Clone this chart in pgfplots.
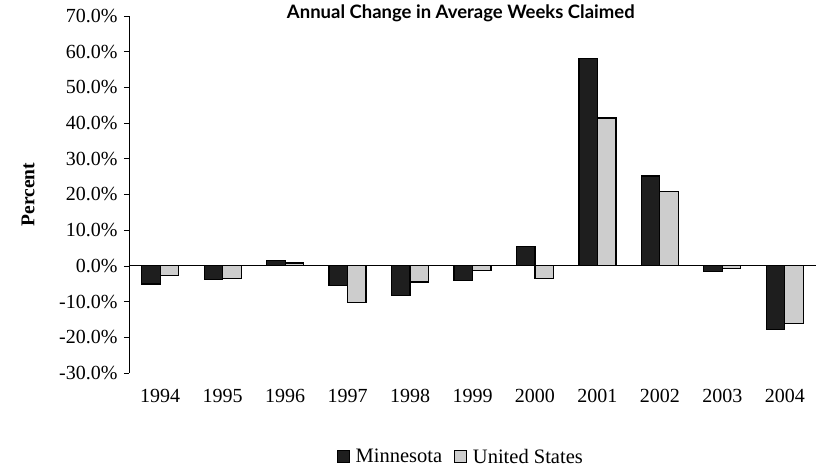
\documentclass[border=0pt]{standalone}
\usepackage{fontspec}
\setmainfont{Liberation Serif}
\newfontfamily\titlefont{Lato}
\usepackage{pgfplots}
\pgfplotsset{compat=1.18}

\definecolor{mn}{RGB}{30,30,30}
\definecolor{us}{RGB}{205,205,205}

\begin{document}
\begin{tikzpicture}
\begin{axis}[
  name=ax,
  scale only axis,
  width=687pt, height=357pt,
  ybar=0pt, bar width=18.5pt,
  xmin=-0.5, xmax=10.5,
  ymin=-30, ymax=70,
  xtick={0,...,10},
  xticklabels={1994,1995,1996,1997,1998,1999,2000,2001,2002,2003,2004},
  ytick={-30,-20,...,70},
  yticklabels={-30.0\%,-20.0\%,-10.0\%,0.0\%,10.0\%,20.0\%,30.0\%,40.0\%,50.0\%,60.0\%,70.0\%},
  axis y line*=left, axis x line*=bottom,
  axis line style={-},
  x axis line style={draw=none},
  xtick style={draw=none},
  ytick style={black, line width=0.7pt},
  y axis line style={black, line width=0.9pt},
  tick align=outside, major tick length=5pt,
  tick label style={font=\fontsize{20}{24}\selectfont},
  xticklabel style={yshift=-8pt},
  yticklabel style={xshift=-3pt},
  ylabel={\bfseries Percent},
  ylabel style={at={(axis description cs:-0.147,0.5)}, anchor=center,
    font=\fontsize{19.5}{23}\selectfont},
  title={Annual Change in Average Weeks Claimed},
  title style={at={(axis description cs:0.483,1)}, anchor=center, yshift=-3pt,
    font=\titlefont\bfseries\fontsize{18.5}{22}\selectfont},
  extra y ticks={0}, extra y tick labels={},
  extra y tick style={grid=major, major grid style={black, line width=0.9pt},
    tick style={draw=none}},
  legend style={at={(0.483,-0.235)}, anchor=center, draw=none,
    legend columns=2, font=\fontsize{20.5}{24}\selectfont,
    /tikz/every odd column/.append style={column sep=4pt},
    /tikz/every even column/.append style={column sep=10pt}},
  legend image code/.code={\draw[#1,/tikz/.cd,line width=0.8pt]
    (0pt,-6pt) rectangle (12pt,6pt);},
]
\addplot[draw=black, line width=1.2pt, fill=mn] coordinates {
  (0,-5.1) (1,-3.9) (2,1.6) (3,-5.6) (4,-8.4) (5,-4.1)
  (6,5.4) (7,58.2) (8,25.2) (9,-1.6) (10,-17.9)};
\addlegendentry{Minnesota}
\addplot[draw=black, line width=1.2pt, fill=us] coordinates {
  (0,-2.8) (1,-3.5) (2,0.8) (3,-10.3) (4,-4.5) (5,-1.2)
  (6,-3.5) (7,41.4) (8,20.8) (9,-0.7) (10,-16.2)};
\addlegendentry{United States}
\end{axis}
\path (ax.south west) ++(-129pt,-98pt) rectangle ([shift={(1pt,16pt)}]ax.north east);
\end{tikzpicture}
\end{document}
